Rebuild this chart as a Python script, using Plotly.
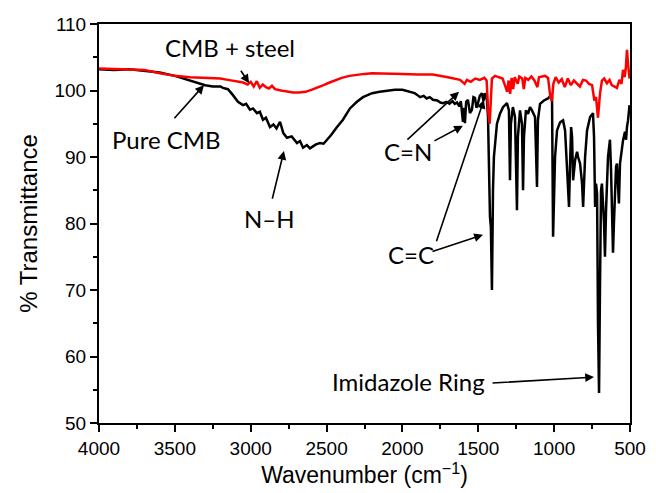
import plotly.graph_objects as go

# Pure CMB (black) spectrum
pure_wn = [4000, 3900, 3800, 3700, 3600, 3500, 3400, 3300, 3250, 3200, 3183, 3150, 3117, 3084, 3051, 3030,
           3005, 2985, 2959, 2940, 2919, 2900, 2873, 2850, 2830, 2807, 2785, 2761, 2730, 2695, 2675, 2655,
           2630, 2609, 2590, 2570, 2543, 2520, 2497, 2470, 2431, 2392, 2346, 2300, 2260, 2200, 2150, 2100,
           2050, 2000, 1950, 1920, 1900, 1884, 1860, 1840, 1820, 1799, 1770, 1750, 1733, 1710, 1690, 1670,
           1655, 1640, 1625, 1615, 1601, 1595, 1588, 1580, 1568, 1555, 1542, 1532, 1522, 1512, 1502, 1490,
           1476, 1466, 1456, 1443, 1436, 1430, 1423, 1417, 1410, 1403, 1397, 1377, 1357, 1337, 1311, 1298,
           1291, 1285, 1272, 1258, 1245, 1239, 1225, 1212, 1205, 1199, 1186, 1172, 1159, 1146, 1126, 1113,
           1107, 1093, 1067, 1041, 1021, 1014, 1007, 994, 981, 961, 941, 928, 915, 902, 895, 888,
           882, 875, 862, 849, 842, 829, 816, 809, 796, 783, 763, 744, 737, 730, 724, 717,
           711, 704, 698, 691, 685, 671, 665, 658, 645, 632, 625, 612, 606, 592, 586, 573,
           566, 553, 546, 533, 526, 520, 513, 503]
pure_t = [103.2, 103.1, 103.2, 103.0, 102.7, 102.2, 101.5, 100.8, 100.6, 100.6, 100.4, 100.2, 99.3, 98.3, 97.8, 98.0,
          97.1, 97.3, 96.6, 96.8, 95.6, 95.9, 94.5, 94.9, 94.3, 95.3, 93.6, 92.9, 93.1, 92.1, 92.4, 91.4,
          91.8, 91.3, 91.6, 91.9, 92.1, 92.0, 92.6, 93.3, 94.5, 95.6, 97.3, 98.3, 99.0, 99.6, 99.8, 100.0,
          100.1, 100.1, 99.8, 99.6, 99.3, 99.0, 99.2, 98.8, 99.0, 98.6, 98.5, 98.2, 98.1, 98.3, 98.0, 98.4,
          98.0, 98.2, 97.6, 98.4, 95.3, 97.4, 95.1, 98.3, 98.6, 96.6, 97.1, 99.0, 98.9, 97.4, 98.1, 99.2,
          99.6, 98.4, 99.6, 98.6, 96.0, 88.0, 81.0, 79.5, 70.0, 85.0, 90.0, 95.0, 96.5, 97.5, 98.1, 97.0,
          86.5, 95.0, 97.5, 96.0, 82.0, 93.0, 97.0, 95.0, 85.0, 93.0, 97.0, 96.5, 97.5, 97.0, 96.0, 85.5,
          95.5, 98.0, 98.5, 98.8, 99.3, 99.0, 78.0, 90.0, 94.0, 95.2, 95.5, 94.0, 89.0, 82.5, 89.0, 94.5,
          93.0, 86.5, 89.5, 90.8, 90.0, 89.0, 86.0, 82.5, 90.0, 94.0, 96.0, 96.6, 93.0, 82.5, 86.0, 84.5,
          65.0, 54.5, 70.0, 85.0, 86.0, 80.0, 75.0, 82.0, 90.0, 92.6, 88.0, 75.6, 80.0, 88.5, 89.0, 83.0,
          89.0, 91.5, 92.5, 93.8, 92.6, 94.5, 95.5, 97.8]

# CMB + steel (red) spectrum
steel_wn = [4000, 3900, 3800, 3700, 3600, 3500, 3400, 3300, 3200, 3150, 3100, 3050, 3020, 3000, 2980, 2960,
            2940, 2920, 2900, 2880, 2860, 2840, 2800, 2760, 2720, 2680, 2640, 2600, 2560, 2520, 2480, 2440,
            2400, 2350, 2300, 2250, 2200, 2100, 2000, 1900, 1800, 1700, 1650, 1620, 1590, 1575, 1550, 1520,
            1490, 1460, 1445, 1435, 1425, 1418, 1410, 1390, 1370, 1340, 1320, 1310, 1300, 1290, 1280, 1270,
            1260, 1240, 1230, 1210, 1200, 1190, 1170, 1150, 1130, 1110, 1100, 1080, 1060, 1040, 1025, 1015,
            1005, 990, 970, 950, 930, 910, 890, 870, 850, 830, 810, 790, 770, 750, 735, 724,
            711, 698, 685, 670, 652, 635, 620, 600, 586, 570, 556, 546, 535, 527, 520, 513,
            508, 503]
steel_t = [103.3, 103.2, 103.2, 103.1, 102.6, 102.2, 102.0, 101.9, 101.8, 101.6, 101.4, 101.2, 100.9, 101.3, 100.6, 101.4,
           100.4, 100.9, 100.5, 100.3, 100.7, 100.2, 100.0, 99.8, 99.7, 99.7, 99.8, 100.1, 100.4, 100.8, 101.2, 101.6,
           101.9, 102.2, 102.4, 102.5, 102.6, 102.6, 102.5, 102.4, 102.4, 102.0, 101.8, 101.6, 101.0, 101.6, 101.3, 101.8,
           101.6, 101.9, 101.5, 97.0, 95.0, 97.5, 101.8, 102.2, 102.0, 101.8, 100.5, 99.8, 101.5, 99.5, 101.9, 100.2,
           102.0, 101.0, 102.1, 101.8, 100.2, 101.9, 101.6, 102.1, 101.5, 100.5, 102.0, 102.1, 102.2, 101.9, 99.0, 98.4,
           101.0, 102.0, 101.2, 101.7, 100.5, 101.8, 100.8, 101.5, 101.0, 100.6, 101.6, 101.5, 101.0, 100.8, 98.5, 99.0,
           95.9, 99.5, 101.5, 101.8, 101.1, 101.6, 100.8, 100.5, 100.4, 101.6, 101.0, 103.1, 102.0, 103.5, 106.1, 104.0,
           102.5, 101.8]

fig = go.Figure()
fig.add_trace(go.Scatter(x=pure_wn, y=pure_t, mode="lines", name="Pure CMB",
                         line=dict(color="black", width=2.5)))
fig.add_trace(go.Scatter(x=steel_wn, y=steel_t, mode="lines", name="CMB + steel",
                         line=dict(color="#ff0000", width=2.5)))

lbl_font = dict(family="Lato, Open Sans, sans-serif", size=24, color="black")
texts = [("CMB + steel", 3137, 106.5), ("Pure CMB", 3558, 92.6), ("N\u2013H", 2873, 80.8),
         ("C=N", 1963, 90.8), ("C=C", 1944, 75.3), ("Imidazole Ring", 1963, 56.3)]
for t, x, y in texts:
    fig.add_annotation(x=x, y=y, text=t, showarrow=False, font=lbl_font, xref="x", yref="y")

arrows = [(3071, 103.2, 3011, 101.1), (3512, 95.6, 3308, 100.8), (2860, 83.5, 2781, 90.9),
          (1977, 92.4, 1627, 99.8), (1799, 92.3, 1601, 94.7), (1779, 77.1, 1463, 98.6),
          (1812, 75.7, 1469, 78.3), (1416, 56.0, 737, 56.9)]
for ax, ay, x, y in arrows:
    fig.add_annotation(x=x, y=y, ax=ax, ay=ay, xref="x", yref="y", axref="x", ayref="y",
                       text="", showarrow=True, arrowhead=2, arrowsize=1.1, arrowwidth=1.6,
                       arrowcolor="black", standoff=0, startstandoff=0)

axis_font = dict(family="Liberation Sans, Arial, sans-serif", size=19, color="black")
fig.update_xaxes(range=[4000, 500], tickmode="linear", tick0=500, dtick=500,
                 ticks="outside", ticklen=7, tickwidth=2, tickcolor="black",
                 minor=dict(dtick=250, ticks="outside", ticklen=4, tickwidth=2, tickcolor="black"),
                 showline=True, linewidth=2, linecolor="black", mirror=True,
                 showgrid=False, zeroline=False, tickfont=axis_font, automargin=False,
                 title=dict(text="Wavenumber (cm<sup>\u22121</sup>)",
                            font=dict(family="Liberation Sans, Arial, sans-serif", size=23, color="black"),
                            standoff=9))
fig.update_yaxes(range=[50, 110], tickmode="linear", tick0=50, dtick=10,
                 ticks="outside", ticklen=7, tickwidth=2, tickcolor="black",
                 minor=dict(dtick=5, ticks="outside", ticklen=4, tickwidth=2, tickcolor="black"),
                 showline=True, linewidth=2, linecolor="black", mirror=True,
                 showgrid=False, zeroline=False, tickfont=axis_font, automargin=False,
                 title=dict(text="% Transmittance",
                            font=dict(family="Liberation Sans, Arial, sans-serif", size=24, color="black"),
                            standoff=10))
fig.update_layout(width=656, height=493, margin=dict(l=99, r=26, t=24, b=70),
                  plot_bgcolor="white", paper_bgcolor="white", showlegend=False)
fig.write_html("out.html")
